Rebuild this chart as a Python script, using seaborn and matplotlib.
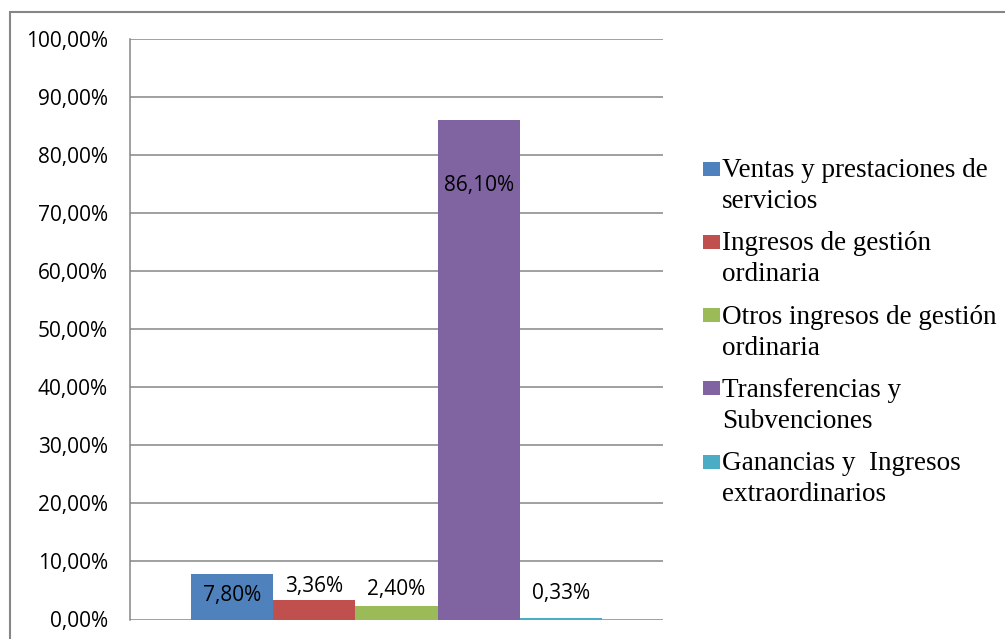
import numpy as np
import matplotlib
matplotlib.use("Agg")
import matplotlib.pyplot as plt
import matplotlib.patches as mpatches
from matplotlib.ticker import FuncFormatter, MultipleLocator
import seaborn as sns
import pandas as pd

# Datos del gráfico
categorias = ["Ventas y prestaciones de\nservicios",
              "Ingresos de gestión\nordinaria",
              "Otros ingresos de gestión\nordinaria",
              "Transferencias y\nSubvenciones",
              "Ganancias y  Ingresos\nextraordinarios"]
valores = [7.80, 3.36, 2.40, 86.10, 0.33]
etiquetas = ["7,80%", "3,36%", "2,40%", "86,10%", "0,33%"]
colores = ["#4F81BD", "#C0504D", "#9BBB59", "#8064A2", "#4BACC6"]

df = pd.DataFrame({"grupo": [""] * len(valores), "categoria": categorias, "valor": valores})

sns.set_theme(style="white")
plt.rcParams["font.family"] = ["Open Sans", "DejaVu Sans"]

W, H = 1005, 639
fig = plt.figure(figsize=(W / 100, H / 100), dpi=100)
ax = fig.add_axes([130 / W, 1 - 619.5 / H, 533 / W, 580.5 / H])

gris = "#868686"

sns.barplot(data=df, x="grupo", y="valor", hue="categoria", palette=colores,
            width=0.771, saturation=1, dodge=True, legend=False, ax=ax,
            edgecolor="none", linewidth=0)

ax.set_ylim(0, 100)
ax.yaxis.set_major_locator(MultipleLocator(10))
ax.yaxis.set_major_formatter(FuncFormatter(lambda v, p: f"{v:.2f}%".replace(".", ",")))
ax.grid(axis="y", color=gris, linewidth=1.1)
ax.set_axisbelow(True)
ax.set_xlabel("")
ax.set_ylabel("")
ax.set_xticks([])
ax.tick_params(axis="y", length=0, pad=16, labelsize=15, labelcolor="black")
for s in ["top", "right", "bottom"]:
    ax.spines[s].set_visible(False)
ax.spines["left"].set_color(gris)
ax.spines["left"].set_linewidth(1.1)

# Etiquetas de datos (desplazamiento en puntos respecto al extremo de la barra)
desplaz = [-15, 9.5, 11.5, -47.5, 17]
barras = [p for p in ax.patches if p.get_height() > 0]
barras.sort(key=lambda p: p.get_x())
for b, txt, dy in zip(barras, etiquetas, desplaz):
    ax.annotate(txt, (b.get_x() + b.get_width() / 2, b.get_height()),
                xytext=(0, dy), textcoords="offset points",
                ha="center", va="center", fontsize=15, color="black")

# Leyenda a la derecha
def fx(px):
    return px / W

def fy(py):
    return 1 - py / H

serif = ["Liberation Serif", "DejaVu Serif"]
for i, (cat, col) in enumerate(zip(categorias, colores)):
    base = 177 + 73.3 * i
    fig.add_artist(mpatches.Rectangle((fx(703), fy(base - 1.5)), 17 / W, 14 / H,
                                      transform=fig.transFigure, facecolor=col,
                                      edgecolor="none"))
    for j, linea in enumerate(cat.split("\n")):
        fig.text(fx(722), fy(base + 31 * j), linea, ha="left", va="baseline",
                 family=serif, fontsize=19.5, color="black")

# Borde exterior
fig.add_artist(mpatches.Rectangle((fx(9.5), -0.1), 1.2, fy(12.5) + 0.1,
                                  transform=fig.transFigure, fill=False,
                                  edgecolor=gris, linewidth=1.5, clip_on=False))

fig.savefig("out.png", dpi=100)
